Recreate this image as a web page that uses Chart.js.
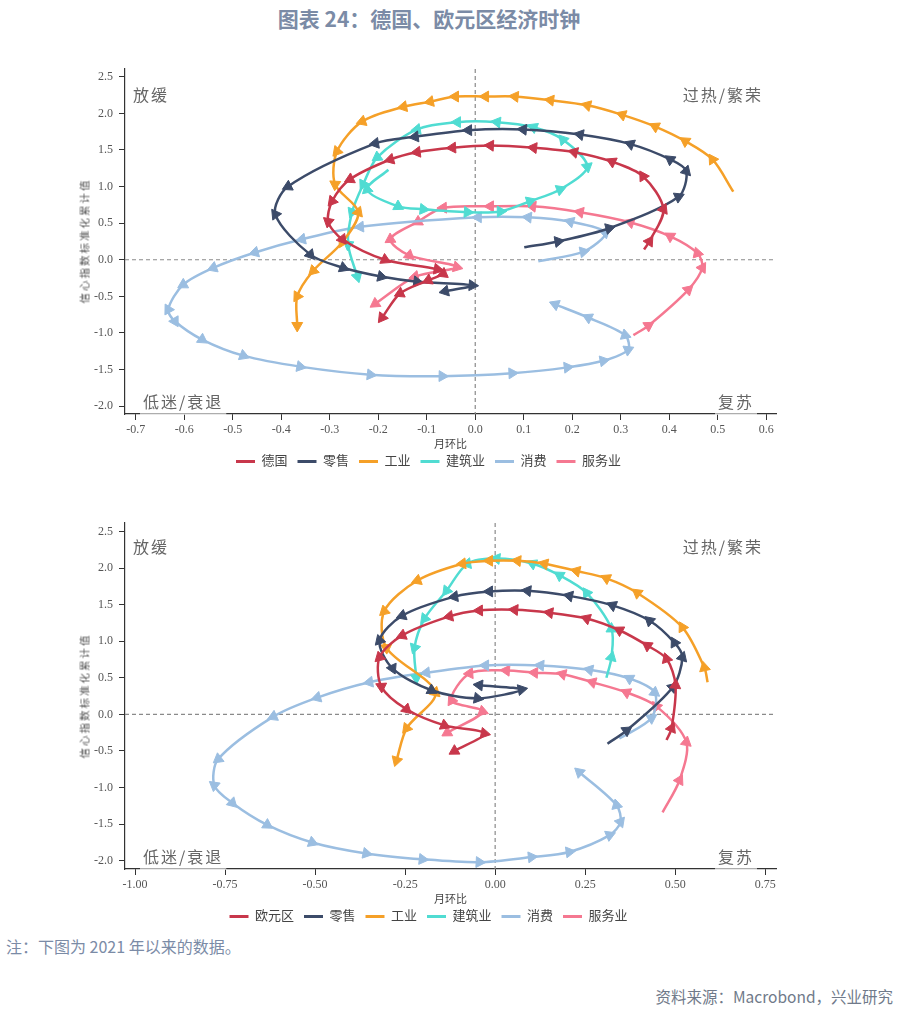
<!DOCTYPE html>
<html lang="zh">
<head>
<meta charset="utf-8">
<title>图表 24：德国、欧元区经济时钟</title>
<script src="https://cdn.jsdelivr.net/npm/chart.js@4.4.1/dist/chart.umd.min.js"></script>
<style>
  body { margin: 0; background: #fff; }
  #page { position: relative; width: 900px; height: 1015px; overflow: hidden; font-family: "Noto Sans CJK SC", sans-serif; }
  #title { position: absolute; top: 5px; left: 0; width: 858px; text-align: center; font-size: 21px; font-weight: bold; line-height: 26px; color: #7b8ba6; }
  .chart-box { position: absolute; left: 0; width: 900px; }
  .ytitle { position: absolute; left: 84px; font-size: 10.5px; letter-spacing: 2px; color: #555; white-space: nowrap; transform: translate(-50%, -50%) rotate(-90deg); }
  #note { position: absolute; left: 6px; top: 935px; font-size: 16px; line-height: 22px; color: #7b8ba6; }
  #source { position: absolute; right: 7px; top: 985px; font-size: 15.5px; line-height: 22px; color: #707a8a; }
</style>
</head>
<body>
<div id="page">
  <div id="title">图表 24：德国、欧元区经济时钟</div>

  <div class="chart-box" style="top:0; height:478px;"><canvas id="deChart" width="900" height="478"></canvas></div>
  <div class="ytitle" style="top:241px;">信心指数标准化累计值</div>

  <div class="chart-box" style="top:480px; height:453px;"><canvas id="ezChart" width="900" height="453"></canvas></div>
  <div class="ytitle" style="top:696px;">信心指数标准化累计值</div>

  <div id="note">注：下图为 2021 年以来的数据。</div>
  <div id="source">资料来源：Macrobond，兴业研究</div>
</div>

<script>
// ---- data: Germany (upper chart) ----
const deLabels = ['德国', '零售', '工业', '建筑业', '消费', '服务业'];

const deGermanyX = [0.348, 0.359, 0.388, 0.346, 0.282, 0.204, 0.120, 0.031, -0.047, -0.120, -0.175, -0.258, -0.295, -0.303, -0.274, -0.186, -0.078, -0.066, -0.097, -0.155, -0.192];
const deGermanyY = [0.14, 0.25, 0.69, 1.14, 1.34, 1.47, 1.53, 1.56, 1.53, 1.47, 1.37, 1.10, 0.80, 0.52, 0.28, 0.00, -0.13, -0.19, -0.28, -0.46, -0.79];

const deRetailX = [0.101, 0.171, 0.276, 0.419, 0.435, 0.402, 0.320, 0.216, 0.099, -0.014, -0.124, -0.206, -0.386, -0.412, -0.340, -0.272, -0.194, -0.120, -0.006, -0.062];
const deRetailY = [0.17, 0.25, 0.43, 0.86, 1.21, 1.37, 1.58, 1.71, 1.78, 1.77, 1.68, 1.59, 1.00, 0.62, 0.07, -0.11, -0.23, -0.30, -0.35, -0.43];

const deIndustryX = [0.532, 0.489, 0.433, 0.371, 0.303, 0.231, 0.155, 0.082, 0.021, -0.041, -0.093, -0.148, -0.233, -0.285, -0.289, -0.241, -0.274, -0.334, -0.367, -0.367];
const deIndustryY = [0.93, 1.37, 1.62, 1.82, 1.98, 2.11, 2.18, 2.23, 2.23, 2.23, 2.16, 2.09, 1.89, 1.48, 1.03, 0.65, 0.24, -0.15, -0.50, -0.90];

const deConstructionX = [-0.179, -0.223, -0.159, -0.107, -0.016, 0.052, 0.113, 0.175, 0.231, 0.181, 0.120, 0.045, -0.037, -0.120, -0.202, -0.231, -0.254, -0.262, -0.243];
const deConstructionY = [1.23, 0.96, 0.73, 0.69, 0.65, 0.66, 0.80, 0.96, 1.27, 1.64, 1.81, 1.88, 1.88, 1.78, 1.40, 1.03, 0.65, 0.21, -0.23];

const deConsumerX = [0.130, 0.223, 0.268, 0.196, 0.109, 0.006, -0.237, -0.357, -0.454, -0.540, -0.602, -0.633, -0.619, -0.563, -0.478, -0.361, -0.216, -0.068, 0.076, 0.190, 0.264, 0.315, 0.309, 0.233, 0.165];
const deConsumerY = [-0.02, 0.11, 0.37, 0.52, 0.58, 0.58, 0.45, 0.28, 0.10, -0.11, -0.34, -0.68, -0.84, -1.09, -1.31, -1.46, -1.57, -1.59, -1.55, -1.47, -1.38, -1.23, -1.03, -0.79, -0.61];

const deServicesX = [0.326, 0.357, 0.439, 0.468, 0.458, 0.402, 0.320, 0.216, 0.118, 0.031, -0.066, -0.118, -0.175, -0.136, -0.038, -0.124, -0.206];
const deServicesY = [-1.03, -0.90, -0.41, -0.11, 0.09, 0.32, 0.51, 0.65, 0.73, 0.73, 0.71, 0.52, 0.28, 0.06, -0.10, -0.23, -0.60];

// ---- data: euro area (lower chart, since 2021) ----
const ezLabels = ['欧元区', '零售', '工业', '建筑业', '消费', '服务业'];

const ezEuroX = [0.476, 0.490, 0.501, 0.476, 0.423, 0.345, 0.254, 0.151, 0.054, -0.044, -0.127, -0.258, -0.321, -0.316, -0.246, -0.141, -0.030, -0.113];
const ezEuroY = [-0.35, -0.19, 0.40, 0.76, 0.94, 1.15, 1.31, 1.39, 1.43, 1.42, 1.34, 1.08, 0.78, 0.38, 0.07, -0.15, -0.26, -0.50];

const ezRetailX = [0.312, 0.365, 0.493, 0.520, 0.498, 0.429, 0.326, 0.206, 0.090, -0.016, -0.113, -0.258, -0.321, -0.285, -0.177, -0.049, 0.073, -0.044];
const ezRetailY = [-0.40, -0.22, 0.37, 0.78, 0.98, 1.28, 1.49, 1.62, 1.69, 1.68, 1.61, 1.35, 1.01, 0.63, 0.33, 0.22, 0.34, 0.40];

const ezIndustryX = [0.590, 0.581, 0.520, 0.395, 0.309, 0.226, 0.137, 0.062, -0.016, -0.091, -0.216, -0.308, -0.302, -0.166, -0.246, -0.274];
const ezIndustryY = [0.44, 0.64, 1.19, 1.66, 1.86, 1.96, 2.06, 2.10, 2.10, 2.06, 1.83, 1.41, 0.91, 0.30, -0.19, -0.63];

const ezConstructionX = [0.309, 0.323, 0.323, 0.254, 0.179, 0.104, 0.004, -0.077, -0.135, -0.196, -0.224, -0.219];
const ezConstructionY = [0.50, 0.78, 1.17, 1.66, 1.90, 2.06, 2.13, 2.06, 1.69, 1.31, 0.91, 0.50];

const ezConsumerX = [0.345, 0.434, 0.443, 0.373, 0.262, 0.126, -0.027, -0.191, -0.349, -0.494, -0.616, -0.769, -0.780, -0.730, -0.633, -0.508, -0.358, -0.202, -0.044, 0.101, 0.206, 0.318, 0.348, 0.337, 0.234];
const ezConsumerY = [-0.33, -0.05, 0.30, 0.49, 0.61, 0.67, 0.67, 0.57, 0.44, 0.23, -0.03, -0.61, -0.97, -1.21, -1.51, -1.75, -1.90, -1.98, -2.02, -1.95, -1.88, -1.65, -1.47, -1.24, -0.79];

const ezServicesX = [0.465, 0.512, 0.531, 0.448, 0.365, 0.270, 0.187, 0.109, 0.031, -0.071, -0.121, -0.035, -0.133];
const ezServicesY = [-1.34, -0.90, -0.38, 0.11, 0.30, 0.44, 0.55, 0.57, 0.60, 0.56, 0.19, 0.04, -0.25];

// ---- ticks ----
const deXTicks = [-0.7, -0.6, -0.5, -0.4, -0.3, -0.2, -0.1, 0, 0.1, 0.2, 0.3, 0.4, 0.5, 0.6];
const ezXTicks = [-1.0, -0.75, -0.5, -0.25, 0, 0.25, 0.5, 0.75];
const yTicks = [-2.0, -1.5, -1.0, -0.5, 0, 0.5, 1.0, 1.5, 2.0, 2.5];
const quadrantNames = ['放缓', '过热/繁荣', '低迷/衰退', '复苏'];

const seriesColors = ['#c8374b', '#3c4b69', '#f5a028', '#50dcd2', '#9bbee1', '#f57891'];

Chart.defaults.font.family = '"Liberation Serif", "Noto Sans CJK SC", serif';

// dashed zero lines through the plot
const zeroLines = {
    id: 'zeroLines',
    beforeDatasetsDraw(chart) {
        const { ctx, chartArea: a, scales: { x, y } } = chart;
        const px = x.getPixelForValue(0);
        const py = y.getPixelForValue(0);
        ctx.save();
        ctx.strokeStyle = '#8a8a8a';
        ctx.lineWidth = 1.2;
        ctx.setLineDash([4, 3]);
        ctx.beginPath();
        ctx.moveTo(px, a.top);
        ctx.lineTo(px, a.bottom);
        ctx.moveTo(a.left, py);
        ctx.lineTo(a.right, py);
        ctx.stroke();
        ctx.restore();
    }
};

// quadrant names in the corners
const quadrantLabels = {
    id: 'quadrantLabels',
    afterDraw(chart, args, opts) {
        const { ctx, chartArea: a } = chart;
        const topY = a.top + opts.topOffset;
        const botY = a.bottom - 12;
        const items = [
            [quadrantNames[0], a.left + 8, topY, 'left', false],
            [quadrantNames[1], a.right - 13, topY, 'right', false],
            [quadrantNames[2], a.left + 18, botY, 'left', true],
            [quadrantNames[3], a.right - 22, botY, 'right', true]
        ];
        ctx.save();
        ctx.font = '16px "Noto Sans CJK SC"';
        ctx.letterSpacing = '2px';
        ctx.textBaseline = 'middle';
        ctx.textAlign = 'left';
        items.forEach(([text, x, y, align, boxed]) => {
            const w = ctx.measureText(text).width;
            const x0 = align === 'left' ? x : x - w;
            if (boxed) {
                ctx.fillStyle = 'rgba(255,255,255,0.6)';
                ctx.fillRect(x0 - 3, y - 10, w + 6, a.bottom + 1 - (y - 10));
            }
            ctx.fillStyle = '#666';
            ctx.fillText(text, x0, y);
        });
        ctx.restore();
    }
};

function arrowRotation(ctx) {
    const i = ctx.dataIndex;
    if (!i) return 0;
    const { x: sx, y: sy } = ctx.chart.scales;
    const d = ctx.dataset.data;
    const dx = sx.getPixelForValue(d[i].x) - sx.getPixelForValue(d[i - 1].x);
    const dy = sy.getPixelForValue(d[i].y) - sy.getPixelForValue(d[i - 1].y);
    return Math.atan2(dx, -dy) * 180 / Math.PI;
}

function makeDataset(label, xs, ys, color) {
    return {
        label: label,
        data: xs.map((x, i) => ({ x: x, y: ys[i] })),
        showLine: true,
        borderColor: color,
        backgroundColor: color,
        borderWidth: 2.5,
        tension: 0.3,
        pointStyle: 'triangle',
        pointRadius: ctx => ctx.dataIndex === 0 ? 0 : 6.3,
        pointBorderWidth: 1,
        pointBorderColor: color,
        pointBackgroundColor: color,
        rotation: arrowRotation
    };
}

// legend swatches: short coloured lines
function lineLegendLabels(chart) {
    return chart.data.datasets.map((ds, i) => ({
        text: ds.label,
        datasetIndex: i,
        hidden: false,
        fillStyle: ds.borderColor,
        strokeStyle: ds.borderColor,
        lineWidth: 3,
        pointStyle: 'line',
        rotation: 0,
        fontColor: '#444'
    }));
}

function buildClock(canvasId, labels, series, xTicks, xMin, xMax, xDecimals, yMin, yMax, padTop, labelOffset) {
    const datasets = series.map((s, i) => makeDataset(labels[i], s[0], s[1], seriesColors[i]));
    return new Chart(document.getElementById(canvasId), {
        type: 'scatter',
        data: { datasets: datasets },
        plugins: [zeroLines, quadrantLabels],
        options: {
            responsive: false,
            animation: false,
            events: [],
            layout: { padding: { left: 81, right: 124, top: padTop, bottom: 0 } },
            plugins: {
                tooltip: { enabled: false },
                quadrantLabels: { topOffset: labelOffset },
                legend: {
                    position: 'bottom',
                    labels: {
                        usePointStyle: true,
                        pointStyle: 'line',
                        pointStyleWidth: 19,
                        padding: 10,
                        color: '#444',
                        font: { size: 13 },
                        generateLabels: lineLegendLabels
                    }
                }
            },
            scales: {
                x: {
                    type: 'linear',
                    min: xMin,
                    max: xMax,
                    afterBuildTicks: axis => { axis.ticks = xTicks.map(v => ({ value: v })); },
                    afterFit: axis => { axis.height = 31; },
                    ticks: { callback: v => v.toFixed(xDecimals), color: '#555', padding: 3, font: { size: 12 }, autoSkip: false, maxRotation: 0 },
                    grid: { drawOnChartArea: false, tickLength: 6, tickColor: '#333' },
                    border: { color: '#333', width: 1.2 },
                    title: { display: true, text: '月环比', color: '#444', font: { size: 11 }, padding: { top: 0, bottom: -7 } }
                },
                y: {
                    min: yMin,
                    max: yMax,
                    afterBuildTicks: axis => { axis.ticks = yTicks.map(v => ({ value: v })); },
                    afterFit: axis => { axis.width = 44; },
                    ticks: { callback: v => v.toFixed(1), color: '#555', padding: 6, font: { size: 12 } },
                    grid: { drawOnChartArea: false, tickLength: 6, tickColor: '#333' },
                    border: { color: '#333', width: 1.2 }
                }
            }
        }
    });
}

buildClock('deChart', deLabels, [
    [deGermanyX, deGermanyY],
    [deRetailX, deRetailY],
    [deIndustryX, deIndustryY],
    [deConstructionX, deConstructionY],
    [deConsumerX, deConsumerY],
    [deServicesX, deServicesY]
], deXTicks, -0.722, 0.62, 1, -2.107, 2.606, 69, 25.5);

buildClock('ezChart', ezLabels, [
    [ezEuroX, ezEuroY],
    [ezRetailX, ezRetailY],
    [ezIndustryX, ezIndustryY],
    [ezConstructionX, ezConstructionY],
    [ezConsumerX, ezConsumerY],
    [ezServicesX, ezServicesY]
], ezXTicks, -1.028, 0.78, 2, -2.113, 2.616, 43, 24);
</script>
</body>
</html>
